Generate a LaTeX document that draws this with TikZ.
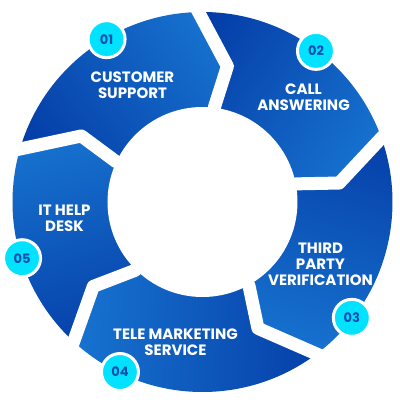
\documentclass[tikz,border=0pt]{standalone}
\usepackage{fontspec}
\setmainfont{Poppins}
\usepackage{xcolor}
\usetikzlibrary{calc}
\definecolor{segdark}{RGB}{2,54,162}
\definecolor{seglight}{RGB}{24,118,210}
\definecolor{dotcyan}{RGB}{0,226,255}
\definecolor{dotblue}{RGB}{10,80,175}

\begin{document}
\begin{tikzpicture}[x=1pt,y=1pt,
  seglabel/.style={text=white, font=\bfseries\fontsize{15}{16}\selectfont, align=center},
  numdot/.style={circle, fill=dotcyan, draw=white, line width=3pt, minimum size=37pt,
    inner sep=0pt, text=dotblue, font=\bfseries\fontsize{13}{13}\selectfont},
  gapline/.style={white, line width=13pt, line join=round}]
\useasboundingbox (-202.5,-198) rectangle (197.5,202);
% corners of the gaps: number/apex/outer/inner angle
\foreach \n/\a/\o/\i in {1/79.6/91.2/82.8, 2/7.9/19.7/10.9, 3/-66.3/-53.1/-61,
                         4/-142.3/-132.7/-134.6, 5/151.4/163.8/154.9}{
  \coordinate (i\n) at (\i:96);
  \coordinate (a\n) at (\a:138);
  \coordinate (o\n) at (\o:190);
  \coordinate (e\n) at ($(a\n)!1.8!(o\n)$);
}
% ring segments: start gap/end gap/middle angle/shading angle
\begin{scope}
\clip (0,0) circle (190pt);
\foreach \p/\q/\m/\s in {5/1/127/-53, 1/2/55/-125, 2/3/-17/-197, 3/4/-93/-273, 4/5/-164/-344}
  \shade[bottom color=segdark, top color=seglight, shading angle=\s]
    (0,0) -- (i\p) -- (a\p) -- (e\p) -- (\m:330) -- (e\q) -- (a\q) -- (i\q) -- cycle;
\end{scope}
\fill[white] (0,0) circle (95pt);
\foreach \n in {1,...,5}
  \draw[gapline] (0,0) -- (i\n) -- (a\n) -- (e\n);

\node[seglabel] (cust) at (-70,117) {CUSTOMER\\SUPPORT};
\node[seglabel] (call) at (101,105) {CALL\\ANSWERING};
\node[seglabel] (third) at (118,-62) {THIRD\\PARTY\\VERIFICATION};
\node[seglabel] (tele) at (-27,-140) {TELE MARKETING\\SERVICE};
\node[seglabel] (help) at (-138,-16) {IT HELP\\DESK};

\foreach \n/\ang in {01/120.5, 02/53.1, 03/-37.8, 04/-115.9, 05/-162.7}
  \node[numdot] (dot\n) at (\ang:189) {\n};
\end{tikzpicture}
\end{document}
